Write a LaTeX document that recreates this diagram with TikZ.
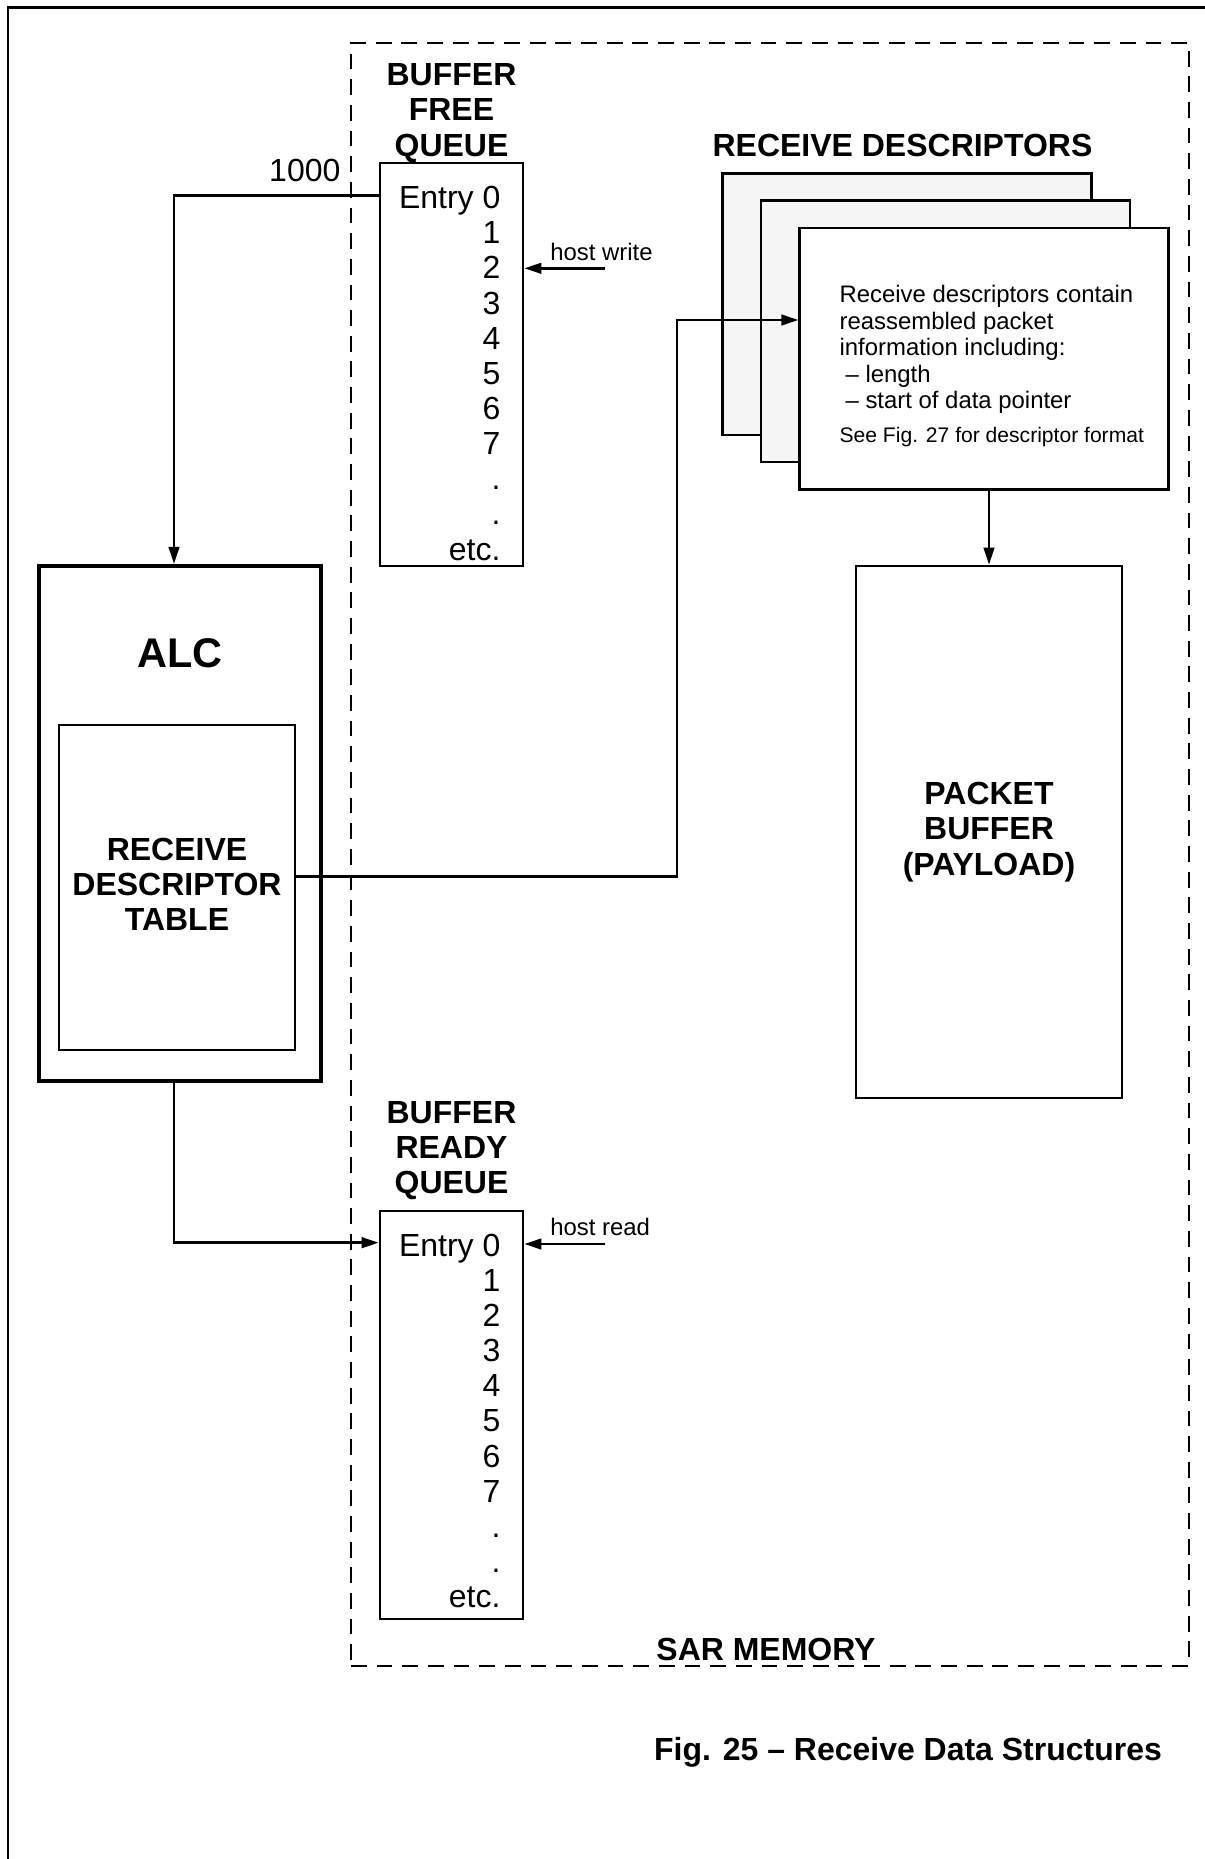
\documentclass[tikz,border=0pt]{standalone}
\usepackage{fontspec}
\setmainfont{Liberation Sans}
\usetikzlibrary{arrows.meta, positioning, calc}

\begin{document}
\begin{tikzpicture}[
    every node/.style={inner sep=0pt},
    >={Triangle[length=1.7mm, width=1.05mm]},
    line width=0.75pt,
    conn/.style={->, line width=0.75pt},
    plainbox/.style={draw, line width=0.75pt, rectangle},
    queuebox/.style={plainbox, minimum width=1.43cm},
    entries/.style={align=right, font=\fontsize{9.1}{10}\selectfont},
    heading/.style={align=center, font=\fontsize{9.1}{10}\selectfont\bfseries},
    hostlbl/.style={font=\fontsize{6.8}{7.7}\selectfont},
    descbox/.style={plainbox, minimum width=3.69cm, minimum height=2.617cm},
]

% page extent and frame
\useasboundingbox (0,0) rectangle (12.05,-18.59);
\draw[line width=0.8pt] (0.08,-18.59) -- (0.08,-0.073) -- (12.05,-0.073);

% --- SAR memory region ---
\node[draw, dash pattern=on 4.5pt off 2.8pt, line width=0.75pt,
      minimum width=8.38cm, minimum height=16.23cm] (sar) at (7.70,-8.544) {};
\node[heading, anchor=base] (sarlbl) at (7.66,-16.60) {SAR MEMORY};

% --- Buffer free queue ---
\node[queuebox, minimum height=4.03cm] (bfq) at (4.515,-3.645) {};
\node[heading, above=-0.02 of bfq] (bfqtitle) {BUFFER\\FREE\\QUEUE};
\node[entries, anchor=north east] (bfqlist) at (5.017,-1.85)
      {Entry 0\\1\\2\\3\\4\\5\\6\\7\\.\\.\\etc.};
\node[entries, anchor=base east] (addr) at (3.417,-1.817) {1000};
\coordinate (bfqout) at ($(bfq.north west)+(0,-0.337)$);

% --- ALC ---
\node[draw, line width=1.2pt, minimum width=2.82cm, minimum height=5.15cm] (alc) at (1.80,-8.235) {};
\node[font=\fontsize{11.8}{13}\selectfont\bfseries, below=0.73 of alc.north] (alctitle) {ALC};
\node[plainbox, minimum width=2.36cm, minimum height=3.25cm] (rdt) at (1.77,-8.875) {};
\node[heading] (rdttext) at ($(rdt.center)+(0,0.035)$) {RECEIVE\\DESCRIPTOR\\TABLE};

% --- Buffer ready queue ---
\node[queuebox, minimum height=4.08cm] (brq) at (4.515,-14.15) {};
\node[heading, above=0.085 of brq] (brqtitle) {BUFFER\\READY\\QUEUE};
\node[entries, anchor=north east] (brqlist) at (5.017,-12.325)
      {Entry 0\\1\\2\\3\\4\\5\\6\\7\\.\\.\\etc.};
\coordinate (brqin) at ($(brq.north west)+(0,-0.33)$);

% --- Receive descriptors ---
\node[heading] (desctitle) at (9.025,-1.45) {RECEIVE DESCRIPTORS};
\node[descbox, fill=black!4] (desc1) at (9.072,-3.042) {};
\node[descbox, fill=black!4] (desc2) at (9.455,-3.312) {};
\node[descbox, fill=white] (desc3) at (9.842,-3.588) {};
\node[align=left, anchor=north west, font=\fontsize{6.8}{7.55}\selectfont] (desctext) at (8.383,-2.84)
      {Receive descriptors contain\\reassembled packet\\information including:\\
       \hspace{0.06cm}– length\\\hspace{0.06cm}– start of data pointer};
\node[anchor=base west, font=\fontsize{6}{7}\selectfont] (descnote) at (8.383,-4.425)
      {See Fig. 27 for descriptor format};

% --- Packet buffer ---
\node[plainbox, heading, minimum width=2.66cm, minimum height=5.32cm] (pkt) at (9.89,-8.32)
      {PACKET\\BUFFER\\(PAYLOAD)};

% --- Host access ---
\coordinate (hw) at (6.05,-2.683);
\coordinate (hr) at (6.05,-12.44);
\node[hostlbl, anchor=base west] (hwlbl) at ($(hw)+(-0.56,0.083)$) {host write};
\node[hostlbl, anchor=base west] (hrlbl) at ($(hr)+(-0.56,0.083)$) {host read};

% --- Connectors ---
\draw[conn] (bfqout) -| ([xshift=-0.06cm]alc.north);
\draw[conn] ([xshift=-0.06cm]alc.south) |- (brqin);
\coordinate (bend) at (6.77,-3.2);
\draw[conn] ([yshift=0.11cm]rdt.east) -| (bend) -- (bend -| desc3.west);
\draw[conn] (desc3.south -| pkt.north) -- (pkt.north);
\draw[conn] (hw) -- (hw -| bfq.east);
\draw[conn] (hr) -- (hr -| brq.east);

% --- Caption ---
\node[heading, anchor=base] (caption) at (9.08,-17.605) {Fig. 25 – Receive Data Structures};

\end{tikzpicture}
\end{document}
